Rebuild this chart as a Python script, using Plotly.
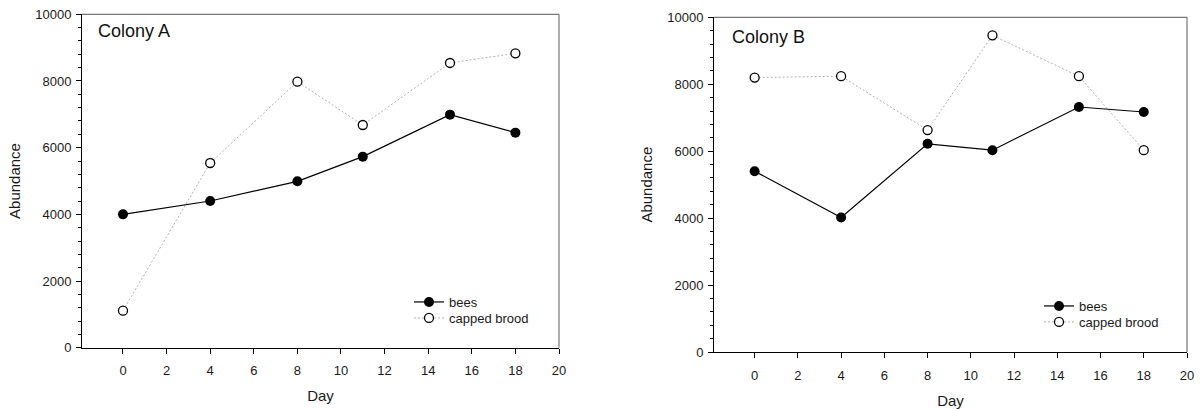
import plotly.graph_objects as go

days = [0, 4, 8, 11, 15, 18]
bees_a = [4000, 4400, 4990, 5730, 6990, 6450]
brood_a = [1110, 5540, 7980, 6680, 8540, 8830]
bees_b = [5400, 4020, 6220, 6030, 7320, 7170]
brood_b = [8200, 8240, 6630, 9460, 8240, 6030]
x_ticks = [0, 2, 4, 6, 8, 10, 12, 14, 16, 18, 20]
panel_titles = ["Colony A", "Colony B"]

FONT = "Liberation Sans, Arial, sans-serif"
TXT = "#1a1a1a"

fig = go.Figure()

def add_panel(xa, ya, bees, brood, leg_bees, leg_brood):
    fig.add_trace(go.Scatter(
        x=days, y=brood, name="capped brood", mode="lines+markers",
        xaxis=xa, yaxis=ya, legend=leg_brood,
        line=dict(color="#b0b0b0", width=1, dash="2px,2px"),
        marker=dict(symbol="circle", size=9, color="white",
                    line=dict(color="black", width=1.3))))
    fig.add_trace(go.Scatter(
        x=days, y=bees, name="bees", mode="lines+markers",
        xaxis=xa, yaxis=ya, legend=leg_bees,
        line=dict(color="black", width=1.2),
        marker=dict(symbol="circle", size=10, color="black")))

add_panel("x", "y", bees_a, brood_a, "legend", "legend2")
add_panel("x2", "y2", bees_b, brood_b, "legend3", "legend4")

def xaxis_style(domain, anchor):
    return dict(domain=domain, anchor=anchor, range=[-1.88, 20],
                tickvals=x_ticks, ticks="outside", ticklen=5, tickcolor="black",
                ticklabelstandoff=6,
                showline=True, linecolor="black", linewidth=1,
                showgrid=False, zeroline=False, automargin=False,
                tickfont=dict(family=FONT, size=13, color=TXT),
                title=dict(text="Day", font=dict(family=FONT, size=15, color=TXT), standoff=13))

def yaxis_style(domain, anchor):
    return dict(domain=domain, anchor=anchor, range=[0, 10000],
                dtick=2000, tickformat="d", ticks="outside", ticklen=5, tickcolor="black",
                ticklabelstandoff=2,
                minor=dict(dtick=400, ticks="outside", ticklen=3, tickcolor="black", showgrid=False),
                showline=True, linecolor="black", linewidth=1,
                showgrid=False, zeroline=False, automargin=False,
                tickfont=dict(family=FONT, size=13, color=TXT),
                title=dict(text="Abundance", font=dict(family=FONT, size=15, color=TXT), standoff=10))

def legend_style(xpx, ypx):
    return dict(x=xpx/1200, y=1-ypx/410, xanchor="left", yanchor="middle",
                bgcolor="rgba(0,0,0,0)", itemwidth=30, borderwidth=0,
                font=dict(family=FONT, size=13, color=TXT), tracegroupgap=0)

fig.update_layout(
    width=1200, height=410,
    margin=dict(l=0, r=0, t=0, b=0, pad=0, autoexpand=False),
    paper_bgcolor="white", plot_bgcolor="white",
    font=dict(family=FONT, color=TXT),
    xaxis=xaxis_style([82/1200, 559/1200], "y"),
    yaxis=yaxis_style([1-347.7/410, 1-14.3/410], "x"),
    xaxis2=xaxis_style([714/1200, 1187/1200], "y2"),
    yaxis2=yaxis_style([1-352/410, 1-17.3/410], "x2"),
    legend=legend_style(409, 302),
    legend2=legend_style(409, 318),
    legend3=legend_style(1039, 306),
    legend4=legend_style(1039, 322),
    showlegend=True,
)

for xa, ya, title, ty, tx in [("x", "y", panel_titles[0], 0.95, 0.03),
                              ("x2", "y2", panel_titles[1], 0.94, 0.034)]:
    fig.add_shape(type="line", xref=f"{xa} domain", yref=f"{ya} domain",
                  x0=0, x1=1, y0=1, y1=1, line=dict(color="#777777", width=1.2))
    fig.add_shape(type="line", xref=f"{xa} domain", yref=f"{ya} domain",
                  x0=1, x1=1, y0=0, y1=1, line=dict(color="#777777", width=1.2))
    fig.add_annotation(text=title, xref=f"{xa} domain", yref=f"{ya} domain",
                       x=tx, y=ty, xanchor="left", yanchor="middle", showarrow=False,
                       font=dict(family=FONT, size=18, color="#111111"))

fig.write_html("out.html")
